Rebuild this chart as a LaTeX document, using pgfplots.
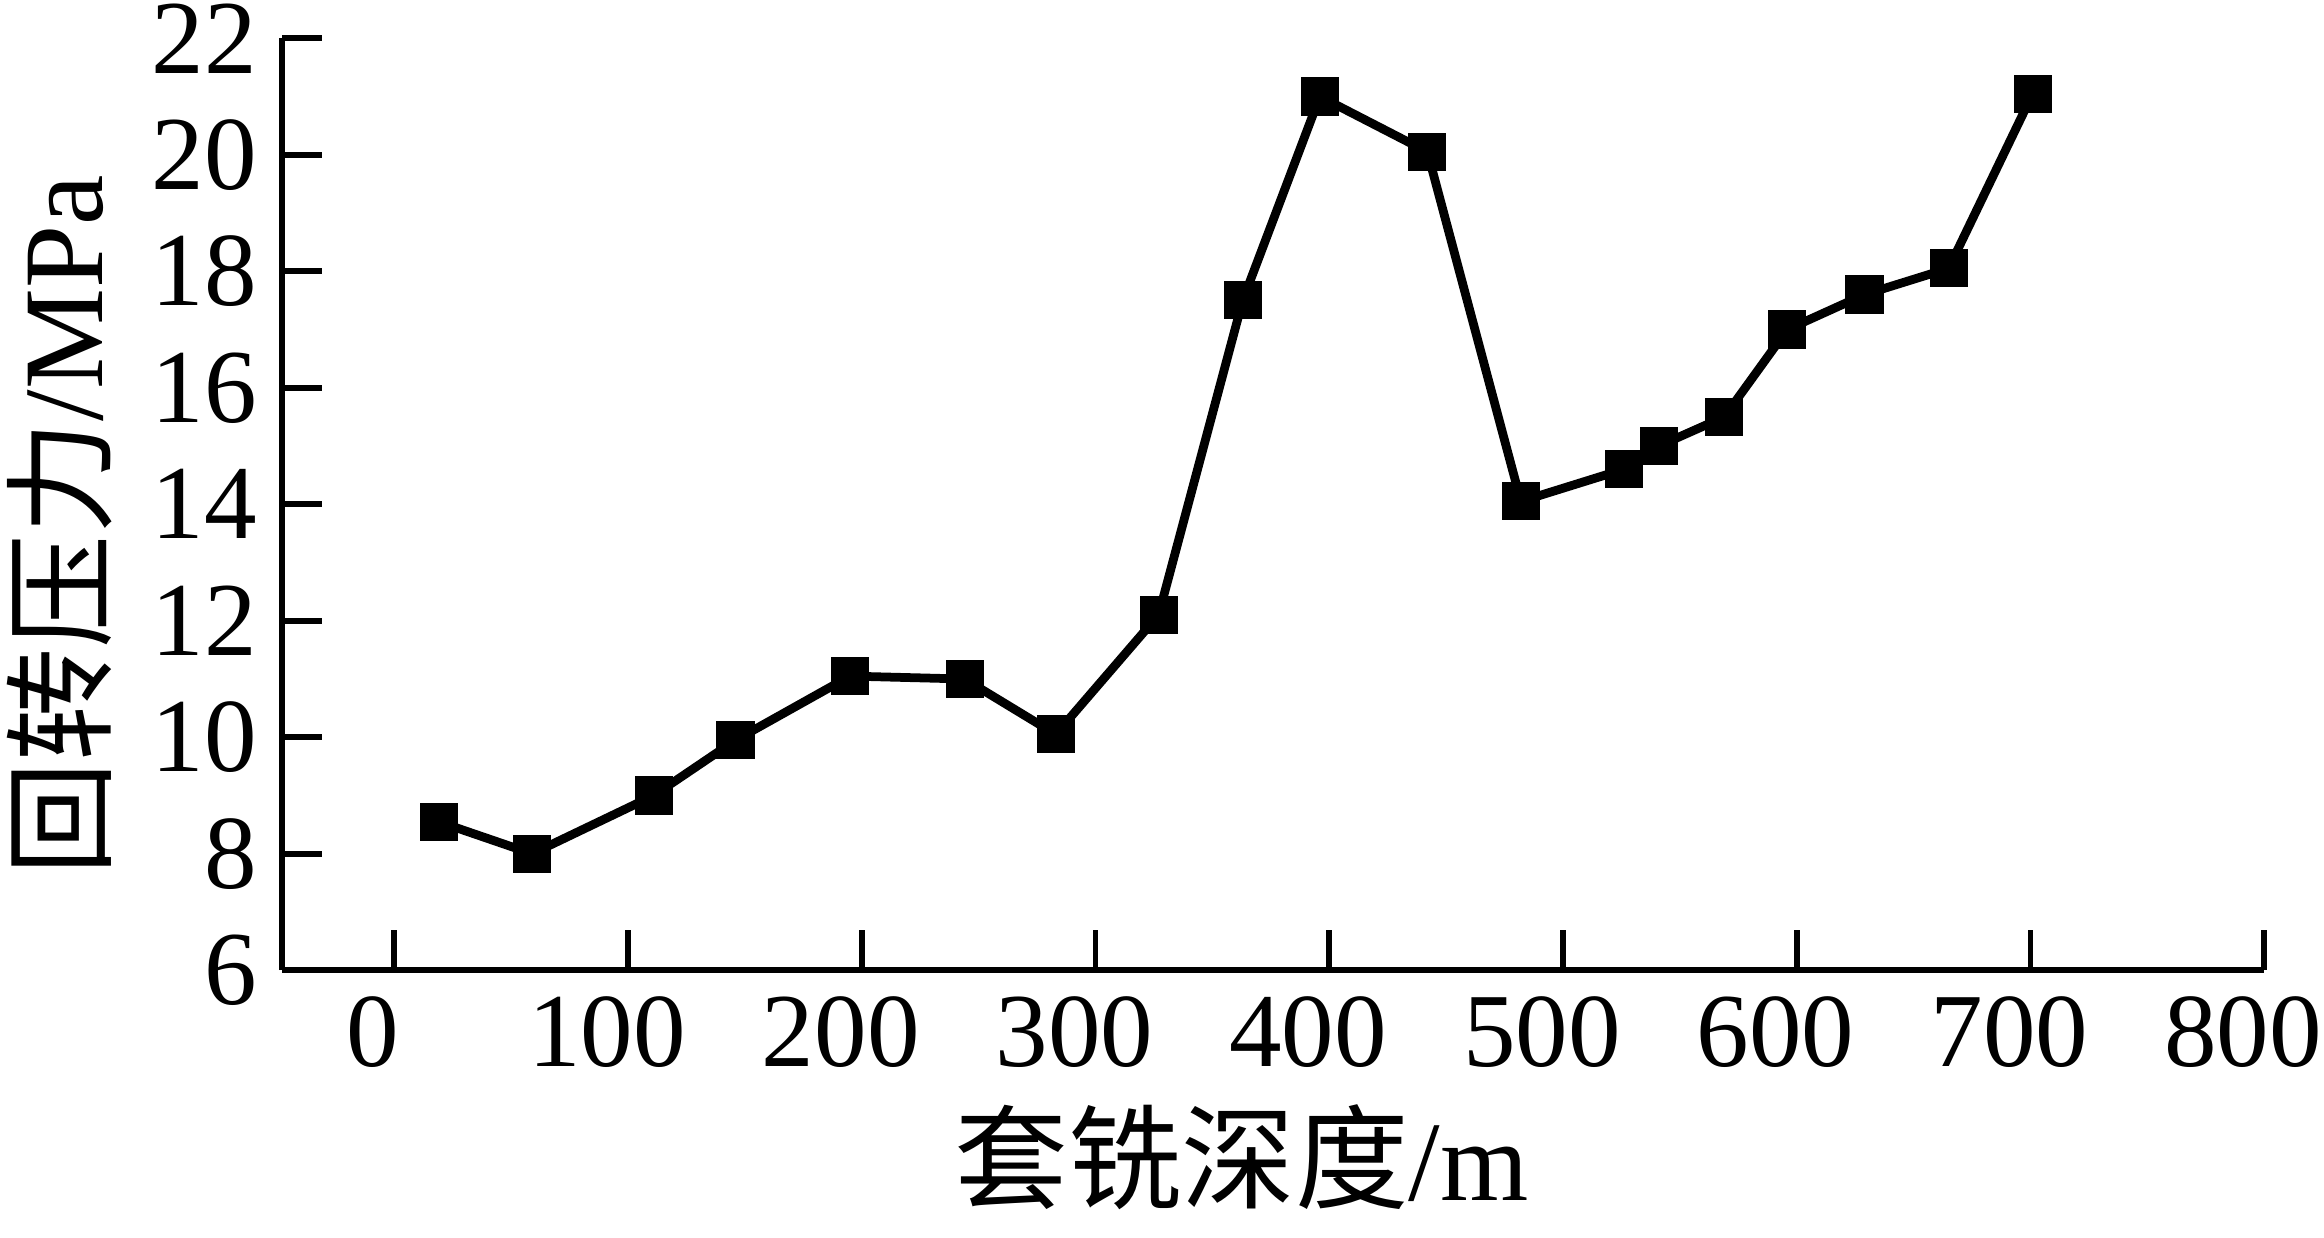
\documentclass[border=0pt]{standalone}
\usepackage{fontspec}
\setmainfont{Liberation Serif}
\newfontfamily\cjk{Noto Sans CJK SC}
\usepackage{pgfplots}
\pgfplotsset{compat=1.18}
\begin{document}
\fontsize{15pt}{17pt}\selectfont
\begin{tikzpicture}[trim right=10.245cm]
\begin{axis}[
  scale only axis,
  width=9.945cm, height=4.676cm,
  xmin=-48, xmax=800, ymin=6, ymax=22,
  xtick={0,100,...,800}, ytick={6,8,...,22},
  axis x line=bottom, axis y line=left,
  axis line style={-, line width=0.9pt},
  tick align=inside,
  major tick length=0.2cm,
  tick style={line width=0.8pt, black},
  /pgf/number format/assume math mode=true,
  tick label style={font=\fontsize{15pt}{17pt}\selectfont, inner sep=0.5pt},
  xticklabel style={yshift=-3.1pt, xshift=-3pt, inner xsep=0pt},
  yticklabel style={xshift=-2.9pt},
  xlabel={{\cjk 套铣深度}/m},
  ylabel={{\cjk 回转压力}/MPa},
  label style={font=\fontsize{16.2pt}{19pt}\selectfont, inner sep=1pt},
  xlabel style={inner ysep=4pt, yshift=-0.5pt, xshift=-4.5pt},
  ylabel style={yshift=4pt, xshift=-3pt},
]
\addplot[black, line width=1.25pt, mark=square*, mark size=2.1pt, mark options={solid}] coordinates {
(19,8.55) (59,8.0) (111,9.0) (146,9.95) (195,11.05) (244,11.0) (283,10.05)
(327,12.1) (363,17.5) (396,21.0) (442,20.05) (482,14.05) (526,14.6) (541,15.0)
(569,15.5) (596,17.0) (629,17.6) (665,18.05) (701,21.05)
};
\end{axis}
\end{tikzpicture}
\end{document}
